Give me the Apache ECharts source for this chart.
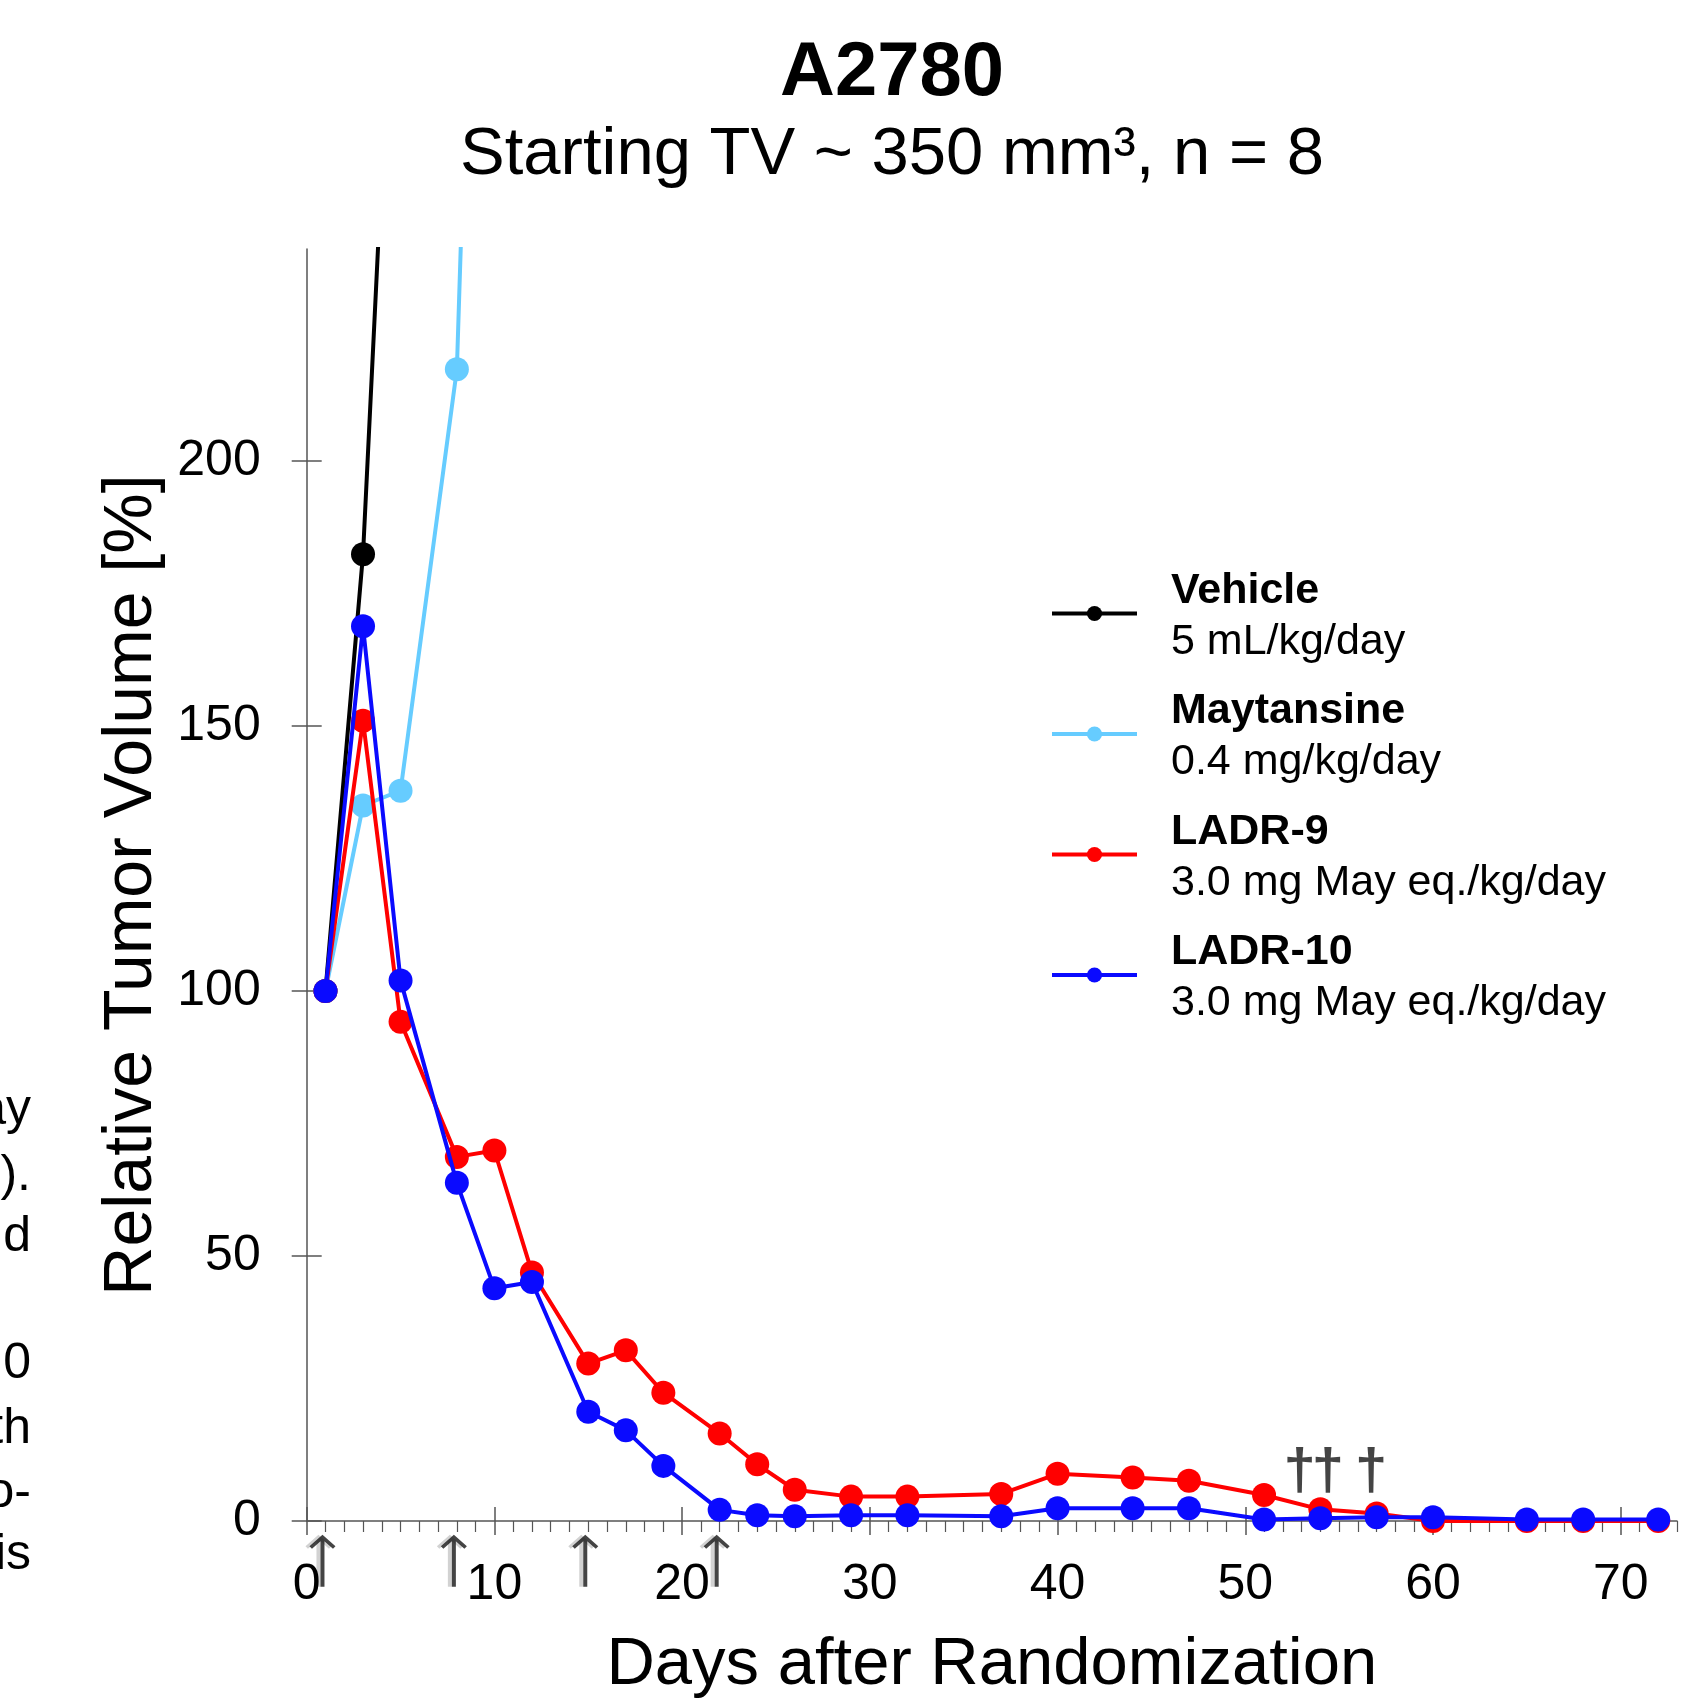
<!DOCTYPE html>
<html>
<head>
<meta charset="utf-8">
<script src="https://cdn.jsdelivr.net/npm/echarts@6/dist/echarts.min.js"></script>
<style>
html,body{margin:0;padding:0;background:#fff;}
#chart{width:1689px;height:1699px;}
</style>
</head>
<body>
<div id="chart"></div>
<script>
// ---- data ----
const seriesNames = ['Vehicle', 'Maytansine', 'LADR-9', 'LADR-10'];
const doseLabels = ['5 mL/kg/day', '0.4 mg/kg/day', '3.0 mg May eq./kg/day', '3.0 mg May eq./kg/day'];
const seriesColors = ['#000000', '#66CCFF', '#FF0000', '#0A0AFF'];

const vehicleDays = [1, 3, 5];
const vehicleVals = [100, 182.4, 327];

const maytansineDays = [1, 3, 5, 8, 10];
const maytansineVals = [100, 135, 137.8, 217.3, 440];

const ladrDays = [1, 3, 5, 8, 10, 12, 15, 17, 19, 22, 24, 26, 29, 32, 37, 40, 44, 47, 51, 54, 57, 60, 65, 68, 72];
const ladr9Vals = [100, 151, 94.2, 68.7, 69.9, 46.9, 29.7, 32.2, 24.2, 16.5, 10.7, 5.9, 4.6, 4.6, 5.1, 8.9, 8.2, 7.6, 4.9, 2.2, 1.4, 0, 0, 0, 0];
const ladr10Vals = [100, 168.8, 102, 63.8, 43.9, 45.1, 20.6, 17.1, 10.4, 2.1, 1.1, 0.9, 1.1, 1.1, 0.9, 2.4, 2.4, 2.4, 0.3, 0.5, 0.7, 0.7, 0.3, 0.3, 0.3];

const xTickValues = [0, 10, 20, 30, 40, 50, 60, 70];
const yTickValues = [0, 50, 100, 150, 200];
const xMinorTicks = [];
for (let d = 1; d <= 73; d++) { if (d % 10 !== 0) xMinorTicks.push(d); }

const doseDays = [1, 8, 15, 22];
const doseArrowLevel = -7.5;
const deathDays = [52.9, 54.4, 56.7];
const deathLevel = 9.0;

const titleText = 'A2780';
const subtitleText = 'Starting TV ~ 350 mm³, n = 8';
const xName = 'Days after Randomization';
const yName = 'Relative Tumor Volume [%]';
const sideFragments = [['ay', 1110], [').', 1176], ['d', 1237], ['0', 1364], ['th', 1429], ['o-', 1493], ['is', 1555]];

// ---- chart ----
const FF = '"Liberation Sans", Arial, Helvetica, sans-serif';
const AX = '#555555';
const zip = (xs, ys) => xs.map((x, i) => [x, ys[i]]);

const chart = echarts.init(document.getElementById('chart'), null, {renderer: 'canvas'});

function lineSeries(i, data) {
  return {
    name: seriesNames[i], type: 'line', data: data,
    xAxisIndex: 0, yAxisIndex: 0,
    symbol: 'circle', symbolSize: 24, showSymbol: true,
    lineStyle: {color: seriesColors[i], width: 4},
    itemStyle: {color: seriesColors[i]},
    clip: true, silent: true, z: 3 + i
  };
}

const graphics = [
  {type: 'text', x: 892, y: 74.5, style: {text: titleText, font: 'bold 76px ' + FF, fill: '#000', textAlign: 'center', textVerticalAlign: 'middle', align: 'center', verticalAlign: 'middle'}},
  {type: 'text', x: 892, y: 155.5, style: {text: subtitleText, font: '67px ' + FF, fill: '#000', textAlign: 'center', textVerticalAlign: 'middle', align: 'center', verticalAlign: 'middle'}}
];
sideFragments.forEach(f => {
  graphics.push({type: 'text', x: 31, y: f[1], style: {text: f[0], font: '50px ' + FF, fill: '#000', textAlign: 'right', textVerticalAlign: 'middle', align: 'right', verticalAlign: 'middle'}});
});

const option = {
  animation: false,
  backgroundColor: '#ffffff',
  textStyle: {fontFamily: FF},
  grid: {left: 306.7, right: 12, top: 249, bottom: 178, containLabel: false, outerBoundsMode: 'none'},
  graphic: graphics,
  legend: {
    orient: 'vertical', left: 1050, top: 569.5, padding: 0,
    itemWidth: 85, itemHeight: 19, itemGap: 26.5,
    data: seriesNames,
    selectedMode: false,
    lineStyle: {width: 4},
    formatter: function (name) {
      const i = seriesNames.indexOf(name);
      return '{b|' + name + '}\n{n|' + doseLabels[i] + '}';
    },
    textStyle: {
      padding: [6, 0, 0, 29],
      rich: {
        b: {fontSize: 43, fontWeight: 'bold', lineHeight: 51, fontFamily: FF, color: '#000'},
        n: {fontSize: 43, lineHeight: 51, fontFamily: FF, color: '#000'}
      }
    }
  },
  xAxis: [
    {
      type: 'value', min: 0, max: 73, position: 'bottom',
      name: xName, nameLocation: 'middle', nameGap: 111,
      nameTextStyle: {fontSize: 67, fontFamily: FF, color: '#000'},
      axisLine: {show: true, onZero: false, lineStyle: {color: AX, width: 1.5}},
      axisTick: {show: true, inside: false, length: 14, customValues: xTickValues, lineStyle: {color: AX, width: 1.5}},
      axisLabel: {show: true, customValues: xTickValues, margin: 39, fontSize: 50, fontFamily: FF, color: '#000'},
      splitLine: {show: false}
    },
    {
      type: 'value', min: 0, max: 73, position: 'bottom',
      axisLine: {show: false, onZero: false},
      axisTick: {show: true, inside: true, length: 14, customValues: xTickValues, lineStyle: {color: AX, width: 1.5}},
      axisLabel: {show: false},
      splitLine: {show: false}
    },
    {
      type: 'value', min: 0, max: 73, position: 'bottom',
      axisLine: {show: false, onZero: false},
      axisTick: {show: true, inside: false, length: 11, customValues: xMinorTicks, lineStyle: {color: AX, width: 1.2}},
      axisLabel: {show: false},
      splitLine: {show: false}
    }
  ],
  yAxis: [
    {
      type: 'value', min: 0, max: 240, position: 'left',
      name: yName, nameLocation: 'middle', nameGap: 139, nameRotate: 90,
      nameTextStyle: {fontSize: 68, fontFamily: FF, color: '#000'},
      axisLine: {show: true, onZero: false, lineStyle: {color: AX, width: 1.5}},
      axisTick: {show: true, inside: false, length: 15, customValues: yTickValues, lineStyle: {color: AX, width: 1.5}},
      axisLabel: {show: true, customValues: yTickValues, margin: 46, fontSize: 50, fontFamily: FF, color: '#000'},
      splitLine: {show: false}
    },
    {
      type: 'value', min: 0, max: 240, position: 'left',
      axisLine: {show: false, onZero: false},
      axisTick: {show: true, inside: true, length: 15, customValues: yTickValues, lineStyle: {color: AX, width: 1.5}},
      axisLabel: {show: false},
      splitLine: {show: false}
    }
  ],
  series: [
    lineSeries(0, zip(vehicleDays, vehicleVals)),
    lineSeries(1, zip(maytansineDays, maytansineVals)),
    lineSeries(2, zip(ladrDays, ladr9Vals)),
    lineSeries(3, zip(ladrDays, ladr10Vals)),
    {
      name: 'dosing', type: 'scatter', xAxisIndex: 0, yAxisIndex: 0,
      data: doseDays.map(d => [d, doseArrowLevel]),
      symbol: 'path://M13,0 L26,11.5 L23.5,14 L15,6.5 L15,52 L11,52 L11,6.5 L2.5,14 L0,11.5 Z',
      symbolSize: [26, 52], symbolOffset: [-3, 0],
      itemStyle: {color: '#151515', shadowColor: 'rgba(0,0,0,0.22)', shadowOffsetX: -4, shadowBlur: 0},
      clip: false, silent: true, z: 2
    },
    {
      name: 'deaths', type: 'scatter', xAxisIndex: 0, yAxisIndex: 0,
      data: deathDays.map(d => [d, deathLevel]),
      symbol: 'circle', symbolSize: 1,
      itemStyle: {color: 'rgba(0,0,0,0)'},
      label: {show: true, position: 'inside', formatter: '\u2020', fontSize: 58, fontWeight: 'bold', fontFamily: FF, color: '#151515'},
      clip: false, silent: true, z: 2
    }
  ]
};
chart.setOption(option);
</script>
</body>
</html>
